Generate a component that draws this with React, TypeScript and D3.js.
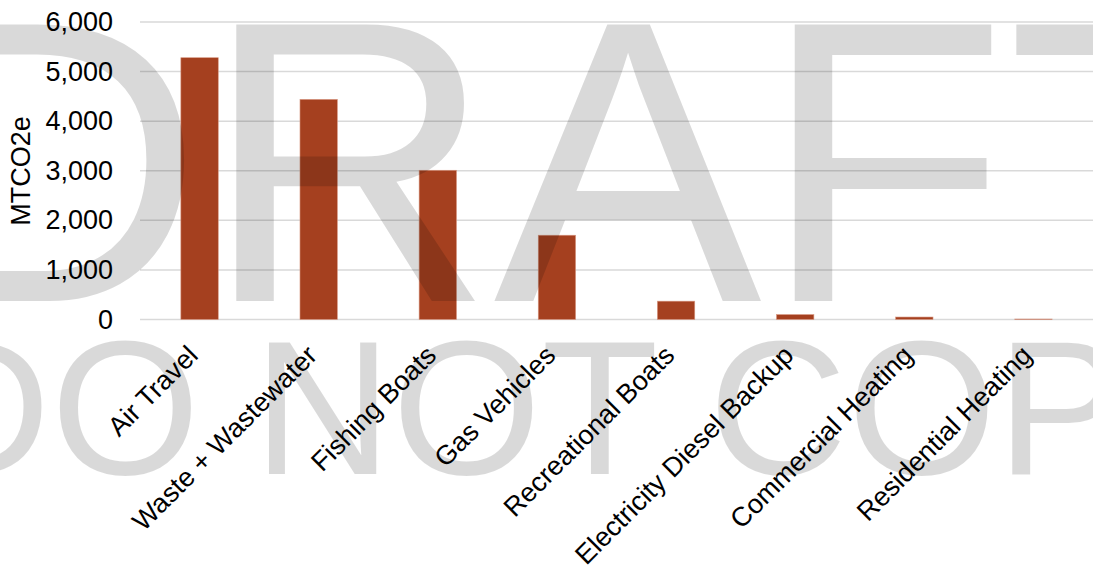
import React from "react";
import * as d3 from "d3";

const categories = [
  "Air Travel",
  "Waste + Wastewater",
  "Fishing Boats",
  "Gas Vehicles",
  "Recreational Boats",
  "Electricity Diesel Backup",
  "Commercial Heating",
  "Residential Heating",
];
const values = [5280, 4440, 3010, 1700, 370, 100, 50, 10];
const yTicks = [0, 1000, 2000, 3000, 4000, 5000, 6000];
const yTitle = "MTCO2e";
const watermark1 = "DRAFT";
const watermark2 = "DO NOT COPY";

const W = 1093;
const H = 569;
const FONT = "'Liberation Sans', Arial, sans-serif";

export default function App() {
  const x = d3
    .scaleBand<string>()
    .domain(categories)
    .range([140, 1093])
    .paddingInner(0.686)
    .paddingOuter(0.343);
  const y = d3.scaleLinear().domain([0, 6000]).range([319.5, 22]);

  return (
    <svg
      width={W}
      height={H}
      style={{ position: "absolute", left: 0, top: 0, background: "#fff" }}
      fontFamily={FONT}
    >
      <rect x={0} y={0} width={W} height={H} fill="#fff" />
      {yTicks.map((t) => (
        <line
          key={"g" + t}
          x1={140}
          x2={1093}
          y1={y(t)}
          y2={y(t)}
          stroke="#d9d9d9"
          strokeWidth={1.5}
        />
      ))}
      {yTicks.map((t) => (
        <text
          key={"t" + t}
          x={113}
          y={y(t)}
          textAnchor="end"
          dominantBaseline="central"
          fontSize={27}
          fill="#000"
        >
          {d3.format(",")(t)}
        </text>
      ))}
      <text
        transform={`translate(30,171) rotate(-90)`}
        textAnchor="middle"
        fontSize={27}
        fill="#000"
      >
        {yTitle}
      </text>
      {categories.map((c, i) => (
        <rect
          key={"b" + c}
          x={x(c)!}
          y={y(values[i])}
          width={x.bandwidth()}
          height={y(0) - y(values[i])}
          fill="#a5401f"
          stroke="#d99a85"
          strokeWidth={0.6}
        />
      ))}
      {categories.map((c) => {
        const cx = x(c)! + x.bandwidth() / 2;
        return (
          <text
            key={"l" + c}
            transform={`translate(${cx + 0},${357}) rotate(-45)`}
            textAnchor="end"
            fontSize={27}
            fill="#000"
          >
            {c}
          </text>
        );
      })}
      <g fill="#000" fillOpacity={0.15} fontFamily={FONT}>
        <text x={-87} y={301} fontSize={402}>
          {watermark1}
        </text>
        <text x={-88} y={474} fontSize={192}>
          {watermark2}
        </text>
      </g>
    </svg>
  );
}
